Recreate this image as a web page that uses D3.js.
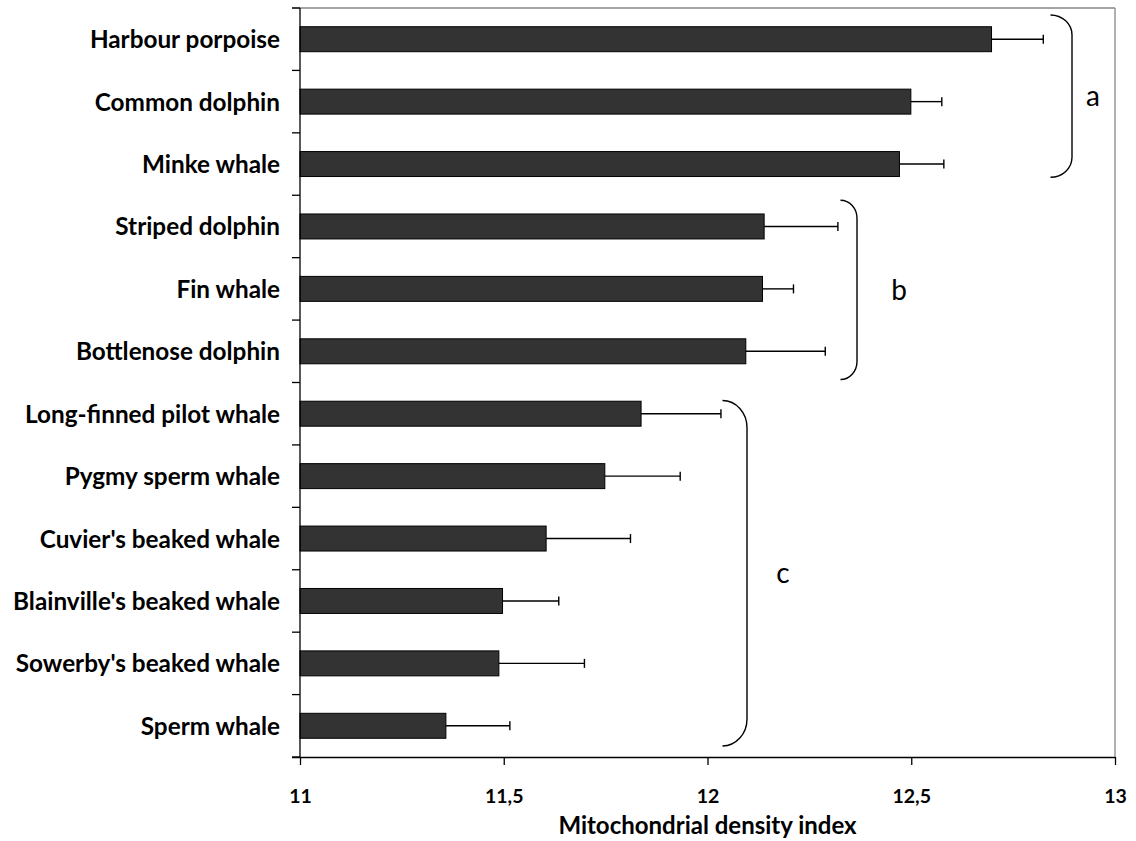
<!DOCTYPE html>
<html>
<head>
<meta charset="utf-8">
<script src="https://cdn.jsdelivr.net/npm/d3@7/dist/d3.min.js"></script>
<style>
  html, body { margin: 0; padding: 0; background: #ffffff; }
  svg { display: block; }
</style>
</head>
<body>
<svg id="chart" width="1136" height="841"></svg>
<script>
// ---- data ----
const categories = [
  "Harbour porpoise", "Common dolphin", "Minke whale",
  "Striped dolphin", "Fin whale", "Bottlenose dolphin",
  "Long-finned pilot whale", "Pygmy sperm whale", "Cuvier's beaked whale",
  "Blainville's beaked whale", "Sowerby's beaked whale", "Sperm whale"
];
const meanValues = [12.697, 12.499, 12.471, 12.139, 12.135, 12.094, 11.837, 11.748, 11.604, 11.497, 11.488, 11.358];
const errorValues = [0.127, 0.076, 0.109, 0.181, 0.076, 0.195, 0.196, 0.185, 0.207, 0.138, 0.210, 0.157];
const xTickValues = [11, 11.5, 12, 12.5, 13];
const xDomain = [11, 13];
const axisTitle = "Mitochondrial density index";
const groupLabels = ["a", "b", "c"];
const groupFirst = ["Harbour porpoise", "Striped dolphin", "Long-finned pilot whale"];
const groupLast = ["Minke whale", "Bottlenose dolphin", "Sperm whale"];

// ---- layout ----
const plot = { left: 300, right: 1115, top: 8, bottom: 757 };
const braceLayout = [
  { x0: 1050.5, x1: 1072, topOff: 7, botOff: -18, labelDx: 21, r: 20 },
  { x0: 840.5, x1: 857, topOff: 5, botOff: -3, labelDx: 42, r: 18 },
  { x0: 722.5, x1: 747, topOff: 18, botOff: -11, labelDx: 36, r: 27 }
];
const FONT = "Lato, 'Open Sans', sans-serif";

const svg = d3.select("#chart");

const x = d3.scaleLinear().domain(xDomain).range([plot.left, plot.right]);
const y = d3.scaleBand().domain(categories)
  .range([plot.top, plot.bottom])
  .paddingInner(0.6).paddingOuter(0.3);
const step = y.step();

// plot frame (gray top/right)
svg.append("line").attr("x1", plot.left - 8).attr("x2", plot.right)
  .attr("y1", plot.top).attr("y2", plot.top)
  .attr("stroke", "#868686").attr("stroke-width", 1.3);
svg.append("line").attr("x1", plot.right).attr("x2", plot.right)
  .attr("y1", plot.top).attr("y2", plot.bottom)
  .attr("stroke", "#868686").attr("stroke-width", 1.3);

// bars
svg.append("g").selectAll("rect").data(categories).join("rect")
  .attr("x", x(xDomain[0]))
  .attr("y", d => y(d))
  .attr("width", (d, i) => x(meanValues[i]) - x(xDomain[0]))
  .attr("height", y.bandwidth())
  .attr("fill", "#333333")
  .attr("stroke", "#000000")
  .attr("stroke-width", 1);

// error bars
const eg = svg.append("g").attr("stroke", "#000").attr("stroke-width", 1.4);
categories.forEach((c, i) => {
  const cy = y(c) + y.bandwidth() / 2;
  const xe = x(meanValues[i] + errorValues[i]);
  eg.append("line").attr("x1", x(meanValues[i])).attr("x2", xe).attr("y1", cy).attr("y2", cy);
  eg.append("line").attr("x1", xe).attr("x2", xe).attr("y1", cy - 4.5).attr("y2", cy + 4.5);
});

// left axis line + ticks at band boundaries
const ag = svg.append("g").attr("stroke", "#000").attr("stroke-width", 1.3);
ag.append("line").attr("x1", plot.left).attr("x2", plot.left)
  .attr("y1", plot.top).attr("y2", plot.bottom);
d3.range(categories.length + 1).forEach(k => {
  const yy = plot.top + k * step;
  ag.append("line").attr("x1", plot.left - 8).attr("x2", plot.left)
    .attr("y1", yy).attr("y2", yy);
});

// category labels
svg.append("g").selectAll("text").data(categories).join("text")
  .attr("x", 280)
  .attr("y", d => y(d) + y.bandwidth() / 2 + 9)
  .attr("text-anchor", "end")
  .attr("font-family", FONT)
  .attr("font-weight", "bold")
  .attr("font-size", 24.3)
  .attr("fill", "#000")
  .text(d => d);

// bottom axis
const locale = d3.formatLocale({ decimal: ",", thousands: ".", grouping: [3], currency: ["", ""] });
const fmt = locale.format("~g");
const xAxis = d3.axisBottom(x).tickValues(xTickValues).tickSize(8).tickFormat(fmt);
const xg = svg.append("g").attr("transform", `translate(0,${plot.bottom})`).call(xAxis);
xg.select(".domain").attr("stroke", "#000").attr("stroke-width", 1.3)
  .attr("d", `M${plot.left - 8},0.5H${plot.right}`);
xg.selectAll(".tick line").attr("stroke", "#000").attr("stroke-width", 1.3);
xg.selectAll(".tick text")
  .attr("y", 46).attr("dy", 0)
  .attr("font-family", FONT)
  .attr("font-weight", "bold")
  .attr("font-size", 19.5)
  .attr("fill", "#000");

// axis title
svg.append("text")
  .attr("x", (plot.left + plot.right) / 2)
  .attr("y", 834)
  .attr("text-anchor", "middle")
  .attr("font-family", FONT)
  .attr("font-weight", "bold")
  .attr("font-size", 24)
  .attr("fill", "#000")
  .text(axisTitle);

// group braces
const bg = svg.append("g");
groupLabels.forEach((lab, gi) => {
  const L = braceLayout[gi];
  const top = y(groupFirst[gi]) - step * 0.3 + L.topOff;
  const bot = y(groupLast[gi]) + y.bandwidth() + step * 0.3 + L.botOff;
  const w = L.x1 - L.x0;
  const path = `M${L.x0},${top} A${w},${L.r} 0 0 1 ${L.x1},${top + L.r} L${L.x1},${bot - L.r} A${w},${L.r} 0 0 1 ${L.x0},${bot}`;
  bg.append("path").attr("d", path).attr("fill", "none")
    .attr("stroke", "#000").attr("stroke-width", 1.4);
  bg.append("text")
    .attr("x", L.x1 + L.labelDx)
    .attr("y", (top + bot) / 2)
    .attr("dy", "0.35em")
    .attr("text-anchor", "middle")
    .attr("font-family", FONT)
    .attr("font-size", 28)
    .attr("fill", "#000")
    .text(lab);
});
</script>
</body>
</html>
